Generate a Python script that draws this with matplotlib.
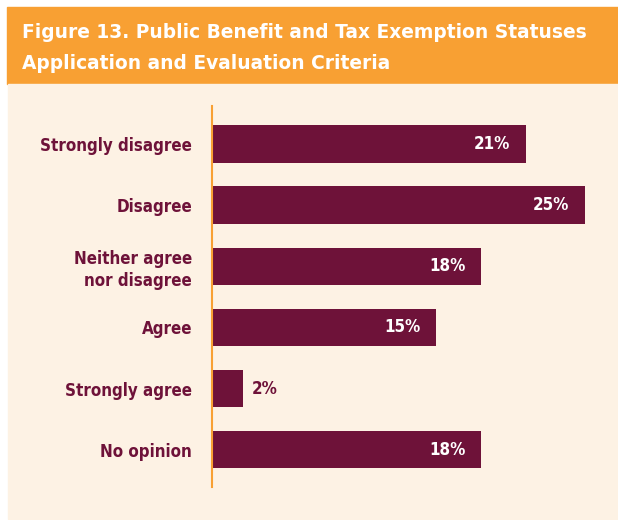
import matplotlib
matplotlib.use("Agg")
import os
import matplotlib.pyplot as plt
from matplotlib.patches import Rectangle
from matplotlib import font_manager

categories = ["Strongly disagree", "Disagree", "Neither agree\nnor disagree",
              "Agree", "Strongly agree", "No opinion"]
values = [21, 25, 18, 15, 2, 18]
value_labels = ["21%", "25%", "18%", "15%", "2%", "18%"]
title = "Figure 13. Public Benefit and Tax Exemption Statuses\nApplication and Evaluation Criteria"

ORANGE = "#F8A033"
CREAM = "#FDF2E4"
MAROON = "#6E1239"


def find_narrow_bold():
    # condensed bold sans face, if one is installed
    files = sorted(f.fname for f in font_manager.fontManager.ttflist)
    prefs = ["dejavusanscondensed-bold", "sanscondensed-bold",
             "liberationsansnarrow-bold"]
    for key in prefs:
        for fn in files:
            base = os.path.basename(fn).lower().replace("_", "")
            if "mono" in base or "oblique" in base or "italic" in base:
                continue
            if key in base:
                return font_manager.FontProperties(fname=fn)
    return font_manager.FontProperties(family="DejaVu Sans", weight="bold")


narrow = find_narrow_bold()
LABEL_SIZE = 12.2

W, H = 618, 520
fig = plt.figure(figsize=(W / 100, H / 100), dpi=100)
fig.patch.set_facecolor("white")

# background panels (pixel coords -> figure fraction)
fig.patches.append(Rectangle((7 / W, 1 - 84 / H), 1 - 7 / W, 77 / H,
                             transform=fig.transFigure, color=ORANGE, zorder=-2))
fig.patches.append(Rectangle((8 / W, 1 - 519 / H), 1 - 8 / W, 435 / H,
                             transform=fig.transFigure, color=CREAM, zorder=-2))

for i, line in enumerate(title.split("\n")):
    fig.text(22 / W, 1 - (38 + 31 * i) / H, line, color="white", fontsize=13.4,
             fontweight="bold", family="DejaVu Sans", va="baseline", ha="left")

px_per_pct = 14.9
left, right = 212, 605
top, bottom = 106, 487
ax = fig.add_axes([left / W, 1 - bottom / H, (right - left) / W, (bottom - top) / H])
ax.set_zorder(2)
ax.set_facecolor("none")
ax.set_xlim(0, (right - left) / px_per_pct)
ax.set_ylim(5.61, -0.62)

ypos = list(range(len(categories)))
ax.barh(ypos, values, height=0.61, color=MAROON, left=0.05)

for y, v, lab in zip(ypos, values, value_labels):
    if v >= 5:
        ax.text(v - 15 / px_per_pct, y, lab, color="white", ha="right", va="center",
                fontproperties=narrow, fontsize=LABEL_SIZE)
    else:
        ax.text(v + 10 / px_per_pct, y, lab, color=MAROON, ha="left", va="center",
                fontproperties=narrow, fontsize=LABEL_SIZE)

ax.set_yticks(ypos)
ax.set_yticklabels(categories, color=MAROON, linespacing=1.25)
for t in ax.get_yticklabels():
    t.set_fontproperties(narrow)
    t.set_fontsize(LABEL_SIZE)
ax.tick_params(axis="y", length=0, pad=14.4)
ax.set_xticks([])
for s in ["top", "right", "bottom"]:
    ax.spines[s].set_visible(False)
ax.spines["left"].set_color(ORANGE)
ax.spines["left"].set_linewidth(1.5)

fig.savefig("out.png", dpi=100, facecolor=fig.get_facecolor())
